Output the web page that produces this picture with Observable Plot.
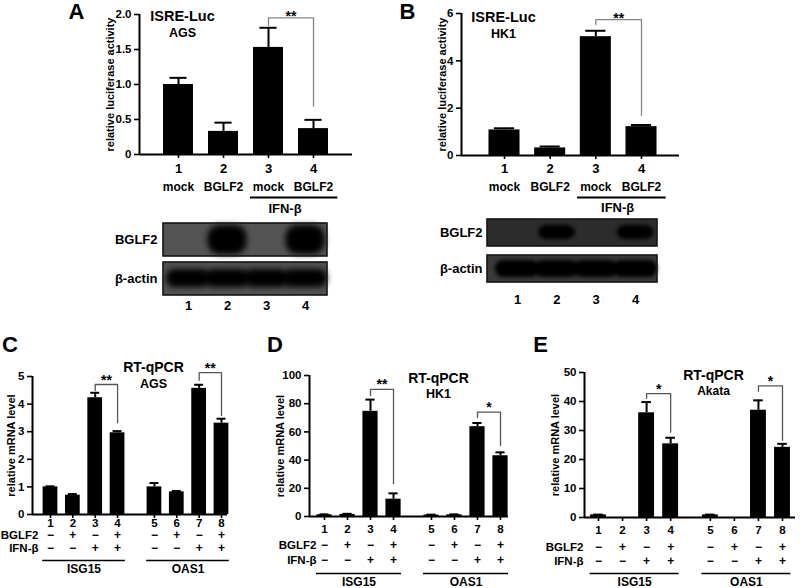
<!DOCTYPE html>
<html><head><meta charset="utf-8">
<script src="https://cdn.jsdelivr.net/npm/d3@7"></script>
<script src="https://cdn.jsdelivr.net/npm/@observablehq/plot@0.6"></script>
<style>
body{margin:0;background:#fff;}
#fig{position:relative;width:800px;height:588px;overflow:hidden;}
#fig svg{position:absolute;left:0;top:0;}
</style></head><body><div id="fig"></div>
<script>
// ---------- data ----------
const laneLabelsAB = ["1", "2", "3", "4"];
const treatmentAB = ["mock", "BGLF2", "mock", "BGLF2"];
const ifnLabel = "IFN-β";
const aValues = [1.00, 0.33, 1.53, 0.37];
const aErrors = [0.095, 0.125, 0.28, 0.125];
const bValues = [1.08, 0.32, 5.02, 1.22];
const bErrors = [0.07, 0.06, 0.25, 0.07];

const qLaneLabels = ["1", "2", "3", "4", "5", "6", "7", "8"];
const bglf2Signs = ["−", "+", "−", "+", "−", "+", "−", "+"];
const ifnSigns = ["−", "−", "+", "+", "−", "−", "+", "+"];
const genes = ["ISG15", "OAS1"];
const cValues = [1.00, 0.70, 4.23, 2.96, 1.00, 0.82, 4.57, 3.31];
const cErrors = [0.02, 0.04, 0.18, 0.06, 0.14, 0.03, 0.13, 0.16];
const dValues = [1.2, 1.5, 74.6, 12.3, 1.0, 1.2, 63.7, 43.1];
const dErrors = [0.3, 0.4, 8.3, 4.1, 0.3, 0.3, 2.6, 2.4];
const eValues = [0.9, 0, 36.1, 25.4, 0.9, 0, 37.0, 24.2];
const eErrors = [0.1, 0, 3.7, 2.1, 0.1, 0, 3.4, 1.2];

const blotRows = ["BGLF2", "β-actin"];
const aBglf2Band = [0, 1, 0, 1];
const aActinBand = [1, 1, 1, 1];
const bBglf2Band = [0, 1, 0, 1];
const bActinBand = [1, 1, 1, 1];

// significance brackets (lane indices, heights in data units)
const aBrackets = [{from: 2, to: 3, yL: 1.84, yTop: 1.953, yR: 0.69, label: "**"}];
const bBrackets = [{from: 2, to: 3, yL: 5.53, yTop: 5.74, yR: 1.69, label: "**"}];
const cBrackets = [
  {from: 2, to: 3, yL: 4.49, yTop: 4.71, yR: 3.33, label: "**"},
  {from: 6, to: 7, yL: 4.86, yTop: 5.14, yR: 3.59, label: "**"}];
const dBrackets = [
  {from: 2, to: 3, yL: 85.8, yTop: 90.1, yR: 23.3, label: "**"},
  {from: 6, to: 7, yL: 70.2, yTop: 74.0, yR: 50.3, label: "*"}];
const eBrackets = [
  {from: 2, to: 3, yL: 41.1, yTop: 42.7, yR: 29.4, label: "*"},
  {from: 6, to: 7, yL: 43.5, yTop: 45.4, yR: 26.6, label: "*"}];

// ---------- drawing ----------
const FONT = '"Liberation Sans", Arial, Helvetica, sans-serif';
const fig = document.getElementById("fig");
const W = 800, H = 588;
function svgStyle() {
  return {background: "transparent", fontFamily: FONT, fontWeight: "bold", fontSize: "11px",
    overflow: "visible", position: "absolute", left: "0px", top: "0px"};
}
const centered = {textAnchor: "middle", lineAnchor: "middle"};

function barPanel(c) {
  const n = c.values.length;
  const pos = c.positions;
  const lin = d3.scaleLinear().domain([pos[0], pos[n - 1]]).range([c.firstPx, c.lastPx]);
  const xd = [lin.invert(c.L), lin.invert(c.R)];
  const rows = c.values.map((v, i) => ({x: pos[i], v, e: c.errors[i]}));
  const errs = rows.filter(d => d.e > 0);
  const bars = rows.filter(d => d.v > 0);
  const bracketPts = c.brackets.flatMap((b, k) => [
    {k, x: pos[b.from], y: b.yL}, {k, x: pos[b.from], y: b.yTop},
    {k, x: pos[b.to], y: b.yTop}, {k, x: pos[b.to], y: b.yR}]);
  const marks = [
    Plot.rect(bars, {x1: d => d.x - c.hw, x2: d => d.x + c.hw, y1: 0, y2: "v", fill: "#000"}),
    Plot.ruleX(errs, {x: "x", y1: "v", y2: d => d.v + d.e, strokeWidth: 2}),
    Plot.ruleY(errs, {y: d => d.v + d.e, x1: d => d.x - c.cap, x2: d => d.x + c.cap, strokeWidth: 2}),
    Plot.ruleY([0], {strokeWidth: 2}),
    Plot.ruleX([xd[0]], {y1: 0, y2: c.yMax, strokeWidth: 2}),
    Plot.axisY({ticks: c.ticks, tickFormat: c.tickFormat, tickSize: 5, tickPadding: 3, strokeWidth: 1.6, fontSize: 11.5, label: null}),
    Plot.axisX({ticks: pos, tickFormat: () => "", tickSize: 4, strokeWidth: 1.6, label: null}),
    Plot.line(bracketPts, {x: "x", y: "y", z: "k", stroke: c.bracketColor, strokeWidth: 1.3}),
    Plot.text(c.brackets, {x: b => (pos[b.from] + pos[b.to]) / 2, y: "yTop", text: "label", dy: c.starDy, fontSize: 14}),
    Plot.text([c.letter], {frameAnchor: "top-left", text: d => d, dx: c.letterDx, dy: c.letterDy, fontSize: 22, ...centered}),
    Plot.text([c.title[0]], {frameAnchor: "top-left", text: d => d, dx: c.titleDx, dy: c.titleDy[0], fontSize: c.titleSize[0], ...centered}),
    Plot.text([c.title[1]], {frameAnchor: "top-left", text: d => d, dx: c.titleDx, dy: c.titleDy[1], fontSize: c.titleSize[1], ...centered}),
    Plot.text([c.yLabel], {frameAnchor: "left", text: d => d, rotate: -90, dx: c.yLabelDx, fontSize: 11, ...centered})
  ];
  return {pos, xd, lin, marks};
}

function makePlot(c, marks, xd) {
  return Plot.plot({
    width: W, height: H,
    marginLeft: c.L, marginRight: W - c.R, marginTop: c.top, marginBottom: H - c.y0,
    x: {domain: xd, axis: null}, y: {domain: [0, c.yMax], axis: null},
    style: svgStyle(),
    marks
  });
}

// ----- Panels A & B (luciferase) -----
function lucPanel(c) {
  const p = barPanel(c);
  const pos = p.pos;
  p.marks.push(
    Plot.text(laneLabelsAB, {x: (d, i) => pos[i], y: 0, text: d => d, dy: c.numDy, fontSize: 13}),
    Plot.text(treatmentAB, {x: (d, i) => pos[i], y: 0, text: d => d, dy: c.treatDy, fontSize: 12}),
    Plot.ruleY([0], {x1: pos[2] - 0.4, x2: pos[3] + 0.54, dy: c.lineDy, strokeWidth: 2}),
    Plot.text([ifnLabel], {x: (pos[2] + pos[3]) / 2, y: 0, text: d => d, dx: c.ifnDx, dy: c.ifnDy, fontSize: 13})
  );
  fig.appendChild(makePlot(c, p.marks, p.xd));
}

const fmt1 = d => d === 0 ? "0" : d.toFixed(1);
lucPanel({
  values: aValues, errors: aErrors, positions: [1, 2, 3, 4],
  L: 139, R: 352, y0: 154, top: 14, yMax: 2, firstPx: 178, lastPx: 313, hw: 0.333, cap: 0.19,
  ticks: [0, 0.5, 1, 1.5, 2], tickFormat: fmt1,
  brackets: aBrackets, bracketColor: "#858585", starDy: -1,
  letter: "A", letterDx: -63, letterDy: -3,
  title: ["ISRE-Luc", "AGS"], titleDx: 43, titleDy: [2, 18], titleSize: [14.5, 12.5],
  yLabel: "relative luciferase activity", yLabelDx: -29,
  numDy: 14, treatDy: 33, lineDy: 43, ifnDy: 54, ifnDx: -6
});
lucPanel({
  values: bValues, errors: bErrors, positions: [1, 2, 3, 4],
  L: 461, R: 679, y0: 155, top: 13, yMax: 6, firstPx: 504, lastPx: 641, hw: 0.34, cap: 0.22,
  ticks: [0, 2, 4, 6], tickFormat: d => String(d),
  brackets: bBrackets, bracketColor: "#858585", starDy: -1,
  letter: "B", letterDx: -54, letterDy: -2,
  title: ["ISRE-Luc", "HK1"], titleDx: 42, titleDy: [4, 20], titleSize: [14.5, 12.5],
  yLabel: "relative luciferase activity", yLabelDx: -19,
  numDy: 13, treatDy: 32, lineDy: 42, ifnDy: 52, ifnDx: -1
});

// ----- Panels C, D, E (RT-qPCR) -----
const qPositions = qLaneLabels.map((d, i) => i + (i >= 4 ? 0.65 : 0));
function qPanel(c) {
  const p = barPanel(c);
  const pos = p.pos;
  p.marks.push(
    Plot.text(qLaneLabels, {x: (d, i) => pos[i], y: 0, text: d => d, dy: c.numDy, fontSize: 11.5}),
    Plot.text(bglf2Signs, {x: (d, i) => pos[i], y: 0, text: d => d, dy: c.bglfDy, fontSize: 12}),
    Plot.text(ifnSigns, {x: (d, i) => pos[i], y: 0, text: d => d, dy: c.ifnDy, fontSize: 12}),
    Plot.text(["BGLF2"], {x: pos[0], y: 0, text: d => d, textAnchor: "end", dx: c.rowDx, dy: c.bglfDy, fontSize: 11.5}),
    Plot.text([ifnLabel], {x: pos[0], y: 0, text: d => d, textAnchor: "end", dx: c.rowDx, dy: c.ifnDy, fontSize: 11.5}),
    Plot.ruleY(genes, {y: () => 0, x1: (g, i) => pos[i * 4] - 0.35, x2: (g, i) => pos[i * 4 + 3] + 0.35, dy: c.lineDy, strokeWidth: 1.5}),
    Plot.text(genes, {x: (g, i) => (pos[i * 4] + pos[i * 4 + 3]) / 2, y: 0, text: d => d, dy: c.geneDy, fontSize: 12})
  );
  fig.appendChild(makePlot(c, p.marks, p.xd));
}

qPanel({
  values: cValues, errors: cErrors, positions: qPositions,
  L: 32, R: 227, y0: 514, top: 376, yMax: 5, firstPx: 50, lastPx: 221, hw: 0.33, cap: 0.2,
  ticks: [0, 1, 2, 3, 4, 5], tickFormat: d => String(d),
  brackets: cBrackets, bracketColor: "#555", starDy: -4,
  letter: "C", letterDx: -22.5, letterDy: -32,
  title: ["RT-qPCR", "AGS"], titleDx: 121, titleDy: [-9, 7], titleSize: [14, 12.5],
  yLabel: "relative mRNA level", yLabelDx: -21,
  numDy: 9, bglfDy: 20.5, ifnDy: 33.5, lineDy: 46, geneDy: 55, rowDx: -12
});
qPanel({
  values: dValues, errors: dErrors, positions: qPositions,
  L: 309, R: 508, y0: 516, top: 375, yMax: 100, firstPx: 324, lastPx: 500, hw: 0.33, cap: 0.2,
  ticks: [0, 20, 40, 60, 80, 100], tickFormat: d => String(d),
  brackets: dBrackets, bracketColor: "#555", starDy: -4.5,
  letter: "D", letterDx: -34.5, letterDy: -31,
  title: ["RT-qPCR", "HK1"], titleDx: 129, titleDy: [3, 18], titleSize: [14, 12.5],
  yLabel: "relative mRNA level", yLabelDx: -29,
  numDy: 13, bglfDy: 29, ifnDy: 44, lineDy: 57, geneDy: 66, rowDx: -8
});
qPanel({
  values: eValues, errors: eErrors, positions: qPositions,
  L: 584, R: 795, y0: 517, top: 372, yMax: 50, firstPx: 598, lastPx: 782, hw: 0.33, cap: 0.2,
  ticks: [0, 10, 20, 30, 40, 50], tickFormat: d => String(d),
  brackets: eBrackets, bracketColor: "#555", starDy: -4,
  letter: "E", letterDx: -44, letterDy: -28,
  title: ["RT-qPCR", "Akata"], titleDx: 129, titleDy: [3.5, 19], titleSize: [14, 12],
  yLabel: "relative mRNA level", yLabelDx: -29,
  numDy: 13, bglfDy: 30, ifnDy: 44, lineDy: 56, geneDy: 65, rowDx: -15
});

// ----- Western blots -----
let blurId = 0;
const BAND = "#060606";
function blotPanel(c) {
  const lin = d3.scaleLinear().domain([1, 4]).range([c.lane1Px, c.lane4Px]);
  const xd = [lin.invert(c.L), lin.invert(c.R)];
  const bandRows = [
    {row: blotRows[0], lanes: c.bands[0]},
    {row: blotRows[1], lanes: c.bands[1]}];
  const marks = [];
  bandRows.forEach((r, k) => {
    marks.push(Plot.barX([r.row], {x1: xd[0], x2: xd[1], y: d => d, fill: c.bg[k]}));
  });
  bandRows.forEach((r, k) => {
    const data = r.lanes.map((v, i) => ({lane: i + 1, v, row: r.row})).filter(d => d.v > 0);
    marks.push(Plot.barX(data, {x1: d => d.lane - c.bw[k], x2: d => d.lane + c.bw[k], y: d => d.row,
      fill: BAND, insetTop: c.inset[k][0], insetBottom: c.inset[k][1], rx: c.rx[k]}));
  });
  marks.push(Plot.barX(blotRows, {x1: xd[0], x2: xd[1], y: d => d, fill: "none", stroke: "#151515", strokeWidth: 1.6}));
  marks.push(Plot.text(blotRows, {x: xd[0], y: d => d, text: d => d, textAnchor: "end", dx: c.labelDx, fontSize: 13}));
  marks.push(Plot.text(laneLabelsAB, {x: (d, i) => i + 1, frameAnchor: "bottom", text: d => d, dy: c.numDy, fontSize: 13, lineAnchor: "middle"}));
  const svg = Plot.plot({
    width: W, height: H,
    marginLeft: c.L, marginRight: W - c.R, marginTop: c.top, marginBottom: H - c.bottom,
    x: {domain: xd, axis: null},
    y: {type: "band", domain: blotRows, paddingInner: c.gap, paddingOuter: 0, axis: null},
    style: svgStyle(),
    marks
  });
  const id = "blur" + (blurId++);
  const s = d3.select(svg);
  s.insert("defs", ":first-child").append("filter").attr("id", id)
    .attr("filterUnits", "userSpaceOnUse")
    .attr("x", 0).attr("y", 0).attr("width", W).attr("height", H)
    .append("feGaussianBlur").attr("stdDeviation", c.blur);
  s.selectAll("rect").filter(function () {
    const f = this.getAttribute("fill") || (this.parentNode && this.parentNode.getAttribute("fill"));
    return f === BAND;
  }).attr("filter", `url(#${id})`);
  s.selectAll("g").filter(function () { return this.getAttribute("fill") === BAND; })
    .attr("filter", `url(#${id})`);
  fig.appendChild(svg);
}

blotPanel({
  L: 163, R: 327, top: 223, bottom: 295, gap: 0.16, lane1Px: 188, lane4Px: 305,
  bands: [aBglf2Band, aActinBand], bg: ["#545454", "#525252"],
  bw: [0.5, 0.56], inset: [[2, 2], [7, 8]], rx: [12, 8], blur: 2.2,
  labelDx: -6, numDy: 10
});
blotPanel({
  L: 487, R: 657, top: 218, bottom: 282, gap: 0.25, lane1Px: 517, lane4Px: 635,
  bands: [bBglf2Band, bActinBand], bg: ["#2c2c2c", "#3a3a3a"],
  bw: [0.47, 0.56], inset: [[6, 7], [5, 5]], rx: [9, 8], blur: 1.8,
  labelDx: -5, numDy: 17
});
</script></body></html>
